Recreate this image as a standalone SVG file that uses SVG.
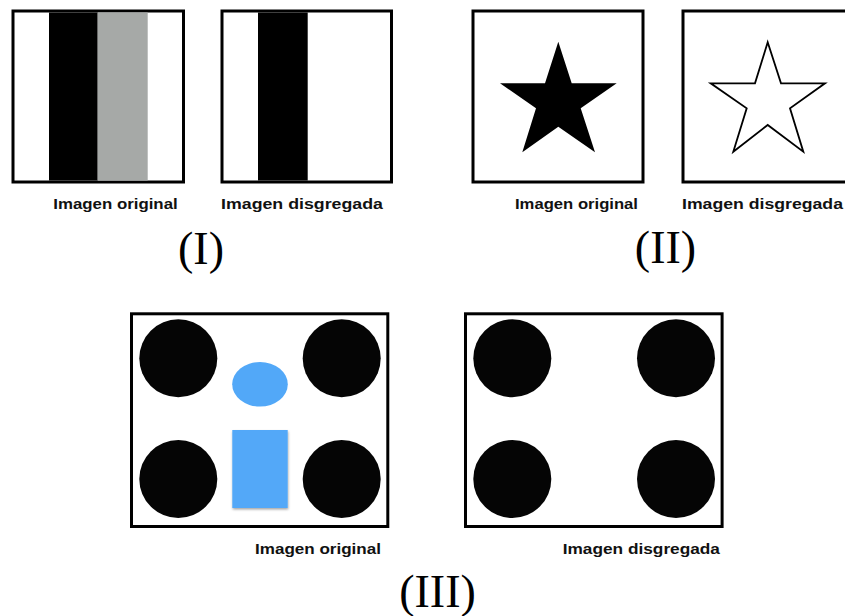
<svg xmlns="http://www.w3.org/2000/svg" width="845" height="616" viewBox="0 0 845 616">
  <defs>
    <style>
      .frame { fill: #ffffff; stroke: #000000; stroke-width: 3; }
      .lbl { font-family: "Liberation Sans", Arial, sans-serif; font-weight: bold; font-size: 15px; fill: #111111; }
      .num { font-family: "Liberation Serif", "Times New Roman", serif; font-size: 46px; fill: #000000; text-anchor: middle; }
      .dot { fill: #050505; }
      .blue { fill: #52a8f8; }
    </style>
    <filter id="shadow" x="-20%" y="-20%" width="140%" height="140%">
      <feDropShadow dx="0.5" dy="1.5" stdDeviation="1" flood-color="#000000" flood-opacity="0.35"/>
    </filter>
  </defs>
  <rect width="845" height="616" fill="#ffffff"/>

  <!-- Panel I -->
  <g id="panel-I-original">
    <rect class="frame" x="13" y="11" width="170.5" height="171"/>
    <rect x="49" y="12.5" width="48.7" height="168" fill="#000000"/>
    <rect x="97.7" y="12.5" width="50" height="168" fill="#a6a9a7"/>
    <text class="lbl" x="53.3" y="208.5" textLength="124.4" lengthAdjust="spacingAndGlyphs">Imagen original</text>
  </g>
  <g id="panel-I-disgregada">
    <rect class="frame" x="222" y="11" width="169.5" height="171"/>
    <rect x="258" y="12.5" width="49.7" height="168" fill="#000000"/>
    <text class="lbl" x="221" y="208.5" textLength="162" lengthAdjust="spacingAndGlyphs">Imagen disgregada</text>
  </g>
  <text id="label-I" class="num" x="201" y="263.5">(I)</text>

  <!-- Panel II -->
  <g id="panel-II-original">
    <rect class="frame" x="473" y="11" width="170" height="171"/>
    <polygon points="558.3,41.7 571.7,83.3 616.7,83.3 580.7,108.3 595,152.3 558.3,126.7 522.3,152.3 536,108.3 500,83.3 545,83.3" fill="#000000"/>
    <text class="lbl" x="515" y="208.5" textLength="123" lengthAdjust="spacingAndGlyphs">Imagen original</text>
  </g>
  <g id="panel-II-disgregada">
    <rect class="frame" x="683" y="11" width="175" height="171"/>
    <polygon points="767.7,42.3 781,83.3 825,83.3 790,108.3 803.3,151.7 767.7,125 733.3,151.7 746.7,108.3 710.7,83.3 755,83.3" fill="none" stroke="#000000" stroke-width="1.8" stroke-linejoin="miter"/>
    <text class="lbl" x="682" y="208.5" textLength="161" lengthAdjust="spacingAndGlyphs">Imagen disgregada</text>
  </g>
  <text id="label-II" class="num" x="665.5" y="262.5">(II)</text>

  <!-- Panel III -->
  <g id="panel-III-original">
    <rect class="frame" x="131.5" y="313.8" width="256.3" height="212.7"/>
    <circle class="dot" cx="178.3" cy="358.3" r="39"/>
    <circle class="dot" cx="341.7" cy="358.3" r="39"/>
    <circle class="dot" cx="178.3" cy="479" r="39"/>
    <circle class="dot" cx="341.7" cy="479" r="39"/>
    <ellipse class="blue" cx="260" cy="384.3" rx="27.8" ry="22.3"/>
    <rect class="blue" x="232.3" y="430" width="55.4" height="78" filter="url(#shadow)"/>
    <text class="lbl" x="255" y="553.5" textLength="126" lengthAdjust="spacingAndGlyphs">Imagen original</text>
  </g>
  <g id="panel-III-disgregada">
    <rect class="frame" x="465.5" y="313.8" width="256.6" height="212.7"/>
    <circle class="dot" cx="512.3" cy="358.3" r="39"/>
    <circle class="dot" cx="676" cy="358.3" r="39"/>
    <circle class="dot" cx="512.3" cy="479" r="39"/>
    <circle class="dot" cx="676" cy="479" r="39"/>
    <text class="lbl" x="562.7" y="553.5" textLength="157.3" lengthAdjust="spacingAndGlyphs">Imagen disgregada</text>
  </g>
  <text id="label-III" class="num" x="437.5" y="606.5">(III)</text>
</svg>
